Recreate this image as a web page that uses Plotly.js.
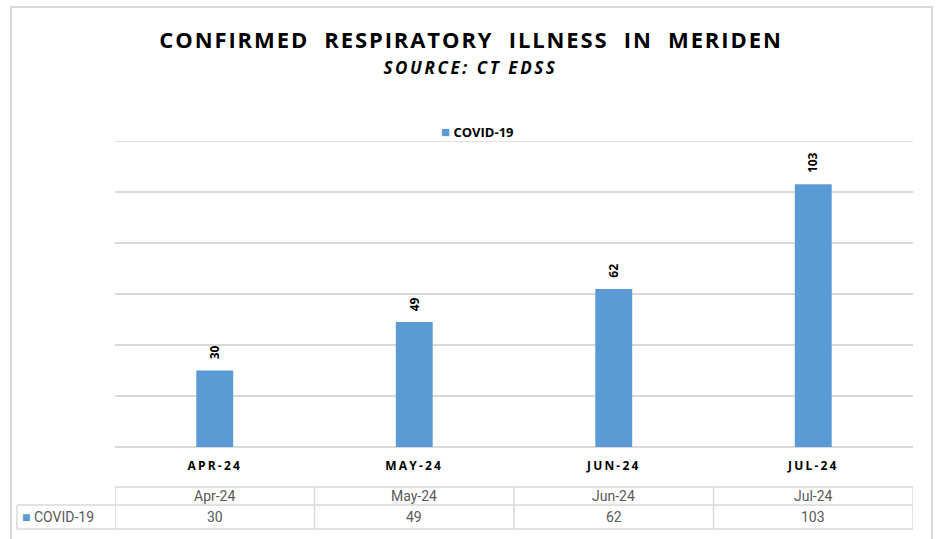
<!DOCTYPE html>
<html>
<head>
<meta charset="utf-8">
<script src="https://cdn.plot.ly/plotly-3.0.1.min.js"></script>
<style>
html,body{margin:0;padding:0;background:#fff;}
#chart{width:936px;height:539px;}
.gtitle{letter-spacing:1.9px;}
.xtick text{letter-spacing:2.2px;}
</style>
</head>
<body>
<div id="chart"></div>
<script>
const categories = ['Apr-24', 'May-24', 'Jun-24', 'Jul-24'];
const tickLabels = ['APR-24', 'MAY-24', 'JUN-24', 'JUL-24'];
const seriesName = 'COVID-19';
const covid = [30, 49, 62, 103];
const yMax = 120;
const titleText = 'CONFIRMED  RESPIRATORY  ILLNESS  IN  MERIDEN';
const subtitleText = 'SOURCE: CT EDSS';

const barColor = '#5B9BD5';
const gridColor = '#d9d9d9';
const tableFont = {family: '"Liberation Sans Narrow", "Roboto", sans-serif', size: 14, color: '#595959'};
const boldFont = '"Open Sans", "Noto Sans", sans-serif';

const W = 936, H = 539, mL = 115, mR = 23, mT = 141, mB = 92;
const pw = W - mL - mR, ph = H - mT - mB;
const px = x => (x - mL) / pw;            // pixel -> paper x
const py = y => (H - mB - y) / ph;        // pixel -> paper y

const idx = categories.map((c, i) => i);

const shapes = [];
shapes.push({type: 'rect', xref: 'paper', yref: 'paper', x0: px(11), x1: px(932), y0: py(560), y1: py(7),
  line: {color: gridColor, width: 2}, fillcolor: 'rgba(0,0,0,0)', layer: 'below'});
// top gridline
shapes.push({type: 'line', xref: 'paper', yref: 'y', x0: 0, x1: 1, y0: yMax, y1: yMax, line: {color: gridColor, width: 1.5}, layer: 'below'});
const rowTop = py(487), rowMid = py(505), rowBot = py(529);
shapes.push({type: 'line', xref: 'x', yref: 'paper', x0: -0.5, x1: categories.length - 0.5, y0: rowTop, y1: rowTop, line: {color: gridColor, width: 1.5}});
shapes.push({type: 'line', xref: 'paper', yref: 'paper', x0: px(17), x1: 1, y0: rowMid, y1: rowMid, line: {color: gridColor, width: 1.5}});
shapes.push({type: 'line', xref: 'paper', yref: 'paper', x0: px(17), x1: 1, y0: rowBot, y1: rowBot, line: {color: gridColor, width: 1.5}});
shapes.push({type: 'line', xref: 'paper', yref: 'paper', x0: px(17), x1: px(17), y0: rowMid, y1: rowBot, line: {color: gridColor, width: 1.5}});
for (let i = 0; i <= categories.length; i++) {
  shapes.push({type: 'line', xref: 'x', yref: 'paper', x0: i - 0.5, x1: i - 0.5, y0: rowTop, y1: rowBot, line: {color: gridColor, width: 1.5}});
}

const annotations = [];
annotations.push({xref: 'paper', yref: 'paper', x: px(471), y: py(68), text: '<b><i>' + subtitleText + '</i></b>',
  showarrow: false, xanchor: 'center', yanchor: 'middle',
  font: {family: boldFont, size: 17, color: '#000'}});
annotations.push({xref: 'paper', yref: 'paper', x: px(439), y: py(131), xanchor: 'left', yanchor: 'middle', showarrow: false,
  text: '<span style="color:' + barColor + ';font-size:15px">■</span> <b>' + seriesName + '</b>',
  font: {family: boldFont, size: 13, color: '#000'}});
categories.forEach((c, i) => {
  annotations.push({xref: 'x', yref: 'y', x: i, y: covid[i], text: '<b>' + covid[i] + '</b>', textangle: -90,
    showarrow: false, xanchor: 'center', yanchor: 'bottom', yshift: 9,
    font: {family: boldFont, size: 12, color: '#000'}});
});
categories.forEach((c, i) => {
  annotations.push({xref: 'x', yref: 'paper', x: i, y: py(496), text: c, showarrow: false,
    xanchor: 'center', yanchor: 'middle', font: tableFont});
  annotations.push({xref: 'x', yref: 'paper', x: i, y: py(517), text: String(covid[i]), showarrow: false,
    xanchor: 'center', yanchor: 'middle', font: tableFont});
});
annotations.push({xref: 'paper', yref: 'paper', x: px(20), y: py(517),
  text: '<span style="color:' + barColor + '">■</span> ' + seriesName, showarrow: false,
  xanchor: 'left', yanchor: 'middle', font: tableFont});

const trace = {
  type: 'bar', x: idx, y: covid, name: seriesName,
  marker: {color: barColor}, width: 0.185, hoverinfo: 'skip', showlegend: false
};

const layout = {
  width: W, height: H,
  margin: {l: mL, r: mR, t: mT, b: mB, pad: 0},
  paper_bgcolor: '#fff', plot_bgcolor: '#fff',
  title: {text: '<b>' + titleText + '</b>', x: 471 / W, xanchor: 'center', y: 1 - 40 / H, yanchor: 'middle',
    font: {family: boldFont, size: 22, color: '#000'}},
  showlegend: false,
  xaxis: {range: [-0.5, categories.length - 0.5], tickmode: 'array', tickvals: idx, ticktext: tickLabels,
    showgrid: false, zeroline: false, showline: false, ticks: '', ticklabelstandoff: 10,
    tickfont: {family: boldFont, size: 12, color: '#000', weight: 'bold'}},
  yaxis: {range: [0, yMax], dtick: 20, tick0: 0, showticklabels: false, showgrid: true, gridcolor: gridColor,
    gridwidth: 1.5, zeroline: true, zerolinecolor: gridColor, zerolinewidth: 1.5, showline: false, ticks: ''},
  shapes: shapes, annotations: annotations
};

Plotly.newPlot('chart', [trace], layout, {displayModeBar: false, staticPlot: true}).then(() => {
  document.querySelectorAll('.annotation').forEach(a => {
    if (a.textContent === subtitleText) a.querySelector('text').style.letterSpacing = '2.6px';
  });
});
</script>
</body>
</html>
